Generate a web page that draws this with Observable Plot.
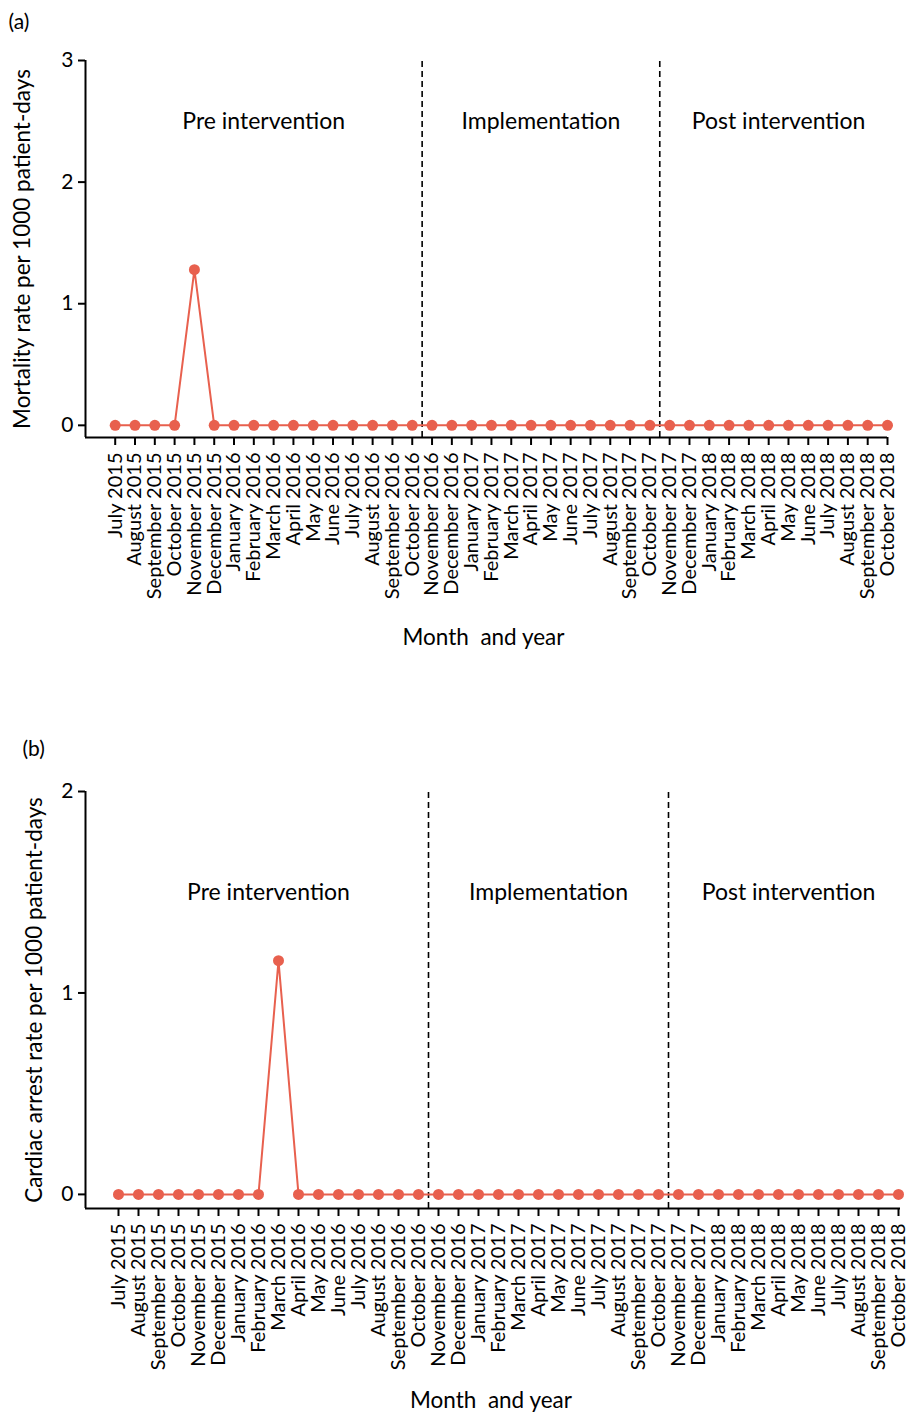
<!DOCTYPE html>
<html><head><meta charset="utf-8">
<script src="https://cdn.jsdelivr.net/npm/d3@7"></script>
<script src="https://cdn.jsdelivr.net/npm/@observablehq/plot@0.6"></script>
<style>
body{margin:0;background:#fff;font-family:Lato,sans-serif;}
#chart{width:908px;}
#chart svg{display:block;}
</style></head><body><div id="chart"></div>
<script>
const months = ["July 2015","August 2015","September 2015","October 2015","November 2015","December 2015",
  "January 2016","February 2016","March 2016","April 2016","May 2016","June 2016","July 2016","August 2016",
  "September 2016","October 2016","November 2016","December 2016","January 2017","February 2017","March 2017",
  "April 2017","May 2017","June 2017","July 2017","August 2017","September 2017","October 2017","November 2017",
  "December 2017","January 2018","February 2018","March 2018","April 2018","May 2018","June 2018","July 2018",
  "August 2018","September 2018","October 2018"];
// (a) Mortality rate per 1000 patient-days
const mortality = [0,0,0,0,1.28,0,0,0,0,0,0,0,0,0,0,0,0,0,0,0,0,0,0,0,0,0,0,0,0,0,0,0,0,0,0,0,0,0,0,0];
// (b) Cardiac arrest rate per 1000 patient-days
const cardiac = [0,0,0,0,0,0,0,0,1.16,0,0,0,0,0,0,0,0,0,0,0,0,0,0,0,0,0,0,0,0,0,0,0,0,0,0,0,0,0,0,0];
const phaseNames = ["Pre intervention","Implementation","Post intervention"];
const phaseFirst = ["July 2015","November 2016","November 2017"];
const phaseLast = ["October 2016","October 2017","October 2018"];
const mortalityTicks = [0,1,2,3];
const cardiacTicks = [0,1,2];

const RED = "#e8604e";
const FONT = "Lato, 'Open Sans', sans-serif";

function panel(o) {
  const data = o.values.map((v, i) => ({i, v, m: months[i]}));
  const idx = m => months.indexOf(m);
  const bounds = phaseLast.slice(0, 2).map(m => idx(m) + 0.5);
  const phases = phaseNames.map((n, k) => ({n, x: (idx(phaseFirst[k]) + idx(phaseLast[k])) / 2}));
  const [x0, x1] = o.xDomain;
  const y0 = o.yMin, y1 = o.yTicks[o.yTicks.length - 1];
  return Plot.plot({
    width: 908, height: o.height,
    marginLeft: 85, marginRight: o.marginRight, marginTop: o.marginTop, marginBottom: o.marginBottom,
    style: {fontFamily: FONT, color: "#000", background: "#fff", overflow: "visible"},
    x: {type: "linear", domain: o.xDomain, axis: null},
    y: {domain: [y0, y1], axis: null},
    marks: [
      Plot.ruleX(bounds, {x: d => d, y1: y0, y2: y1, stroke: "#000", strokeWidth: 1.6, strokeDasharray: "6,4"}),
      Plot.line(data, {x: "i", y: "v", stroke: RED, strokeWidth: 2}),
      Plot.dot(data, {x: "i", y: "v", r: 5.5, fill: RED, stroke: "none"}),
      Plot.axisX({ticks: d3.range(months.length), tickFormat: i => months[i], tickRotate: -90,
        fontSize: 20, tickSize: 8, tickPadding: 7, strokeWidth: 2, label: null}),
      Plot.axisY({ticks: o.yTicks, tickFormat: d3.format("d"), fontSize: 21, tickSize: 7, tickPadding: 5, strokeWidth: 2, label: null}),
      Plot.ruleX([x0], {y1: y0, y2: y1, stroke: "#000", strokeWidth: 2}),
      Plot.ruleY([y0], {x1: x0, x2: x1, stroke: "#000", strokeWidth: 2}),
      Plot.text(phases, {x: "x", y: o.phaseY, text: "n", fontSize: 23, fill: "#000"}),
      Plot.text([o.yTitle], {frameAnchor: "left", textAnchor: "middle", rotate: -90, dx: o.yTitleDx, fontSize: 22.5, fill: "#000"}),
      Plot.text(["Month  and year"], {frameAnchor: "bottom", textAnchor: "middle", dx: o.xTitleDx, dy: o.xTitleDy, fontSize: 22.5, fill: "#000"}),
      Plot.text([o.label], {frameAnchor: "top-left", textAnchor: "start", dx: o.labelDx, dy: o.labelDy, fontSize: 21, fill: "#000"})
    ]
  });
}

const chart = document.getElementById("chart");
chart.append(panel({
  values: mortality, yTicks: mortalityTicks, yMin: -0.1, height: 700,
  marginTop: 60, marginBottom: 263, marginRight: 21, xDomain: [-1.5, 39],
  phaseY: 2.5, yTitle: "Mortality rate per 1000 patient-days", yTitleDx: -63,
  xTitleDx: -3, xTitleDy: 207, label: "(a)", labelDx: -77, labelDy: -46
}));
chart.append(panel({
  values: cardiac, yTicks: cardiacTicks, yMin: -0.07, height: 712,
  marginTop: 91, marginBottom: 204, marginRight: 8, xDomain: [-1.65, 39.1],
  phaseY: 1.5, yTitle: "Cardiac arrest rate per 1000 patient-days", yTitleDx: -51,
  xTitleDx: -2, xTitleDy: 199, label: "(b)", labelDx: -63, labelDy: -50
}));
</script></body></html>
